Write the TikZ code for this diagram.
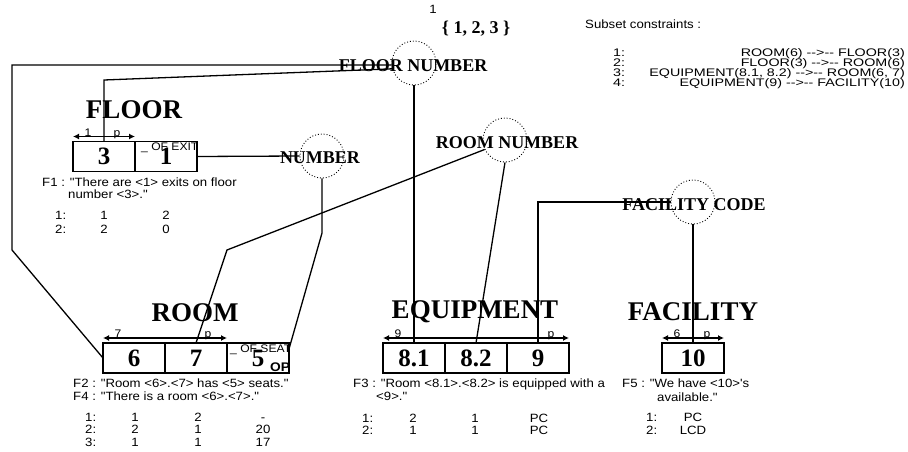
\documentclass[tikz,border=0pt]{standalone}
\usepackage{fontspec}
\setmainfont{Liberation Serif}
\newfontfamily\arial[Ligatures=TeXOff,FakeStretch=1.1]{Liberation Sans}
\newfontfamily\arialwide[Ligatures=TeXOff,FakeStretch=1.3]{Liberation Sans}
\usepackage{tikz}
\usetikzlibrary{arrows.meta,positioning}
\tikzset{
  cellbox/.style={draw,line width=1.3pt,outer sep=0pt,inner sep=0pt,minimum width=62pt,minimum height=30pt,font=\bfseries\fontsize{25}{25}\selectfont},
  rolering/.style={circle,draw,dotted,line width=0.9pt,minimum size=44pt,inner sep=0pt},
  rolename/.style={inner sep=0pt,font=\bfseries\fontsize{18}{18}\selectfont},
  entname/.style={inner sep=0pt,font=\bfseries\fontsize{27}{27}\selectfont},
  txt/.style={inner sep=0pt,font=\arial\fontsize{12}{12}\selectfont},
  listtxt/.style={inner sep=0pt,font=\arialwide\fontsize{11}{11}\selectfont},
  smalltxt/.style={inner sep=0pt,font=\arial\fontsize{11}{11}\selectfont},
  link/.style={line width=1.3pt},
  span/.style={{Latex[length=6pt,width=6pt]}-{Latex[length=6pt,width=6pt]},line width=1.3pt}
}

\begin{document}
\begin{tikzpicture}[x=1pt,y=1pt]
  \useasboundingbox (0,0) rectangle (908,-452);
  \node[entname] (floor) at (134,-110) {FLOOR};
  \node[entname] (room) at (195,-313) {ROOM};
  \node[entname] (equip) at (475,-312) {EQUIPMENT};
  \node[entname] (facil) at (693,-312) {FACILITY};
  \node[cellbox] (c3) at (104,-156.5) {3};
  \node[cellbox,right=0pt of c3] (c1) {1};
  \node[cellbox] (c6) at (134,-358) {6};
  \node[cellbox,right=0pt of c6] (c7) {7};
  \node[cellbox,right=0pt of c7] (c5) {5};
  \node[cellbox] (c81) at (414,-358) {8.1};
  \node[cellbox,right=0pt of c81] (c82) {8.2};
  \node[cellbox,right=0pt of c82] (c9) {9};
  \node[cellbox] (c10) at (693,-358) {10};
  \begin{scope}
    \clip ([yshift=10pt]c1.north west) rectangle (c1.south east);
    \node[smalltxt,anchor=base west] (exits) at (141,-150.5) {\_ OF EXITS};
  \end{scope}
  \begin{scope}
    \clip (c5.north west) rectangle (c5.south east);
    \node[smalltxt,anchor=base west] (seats) at (230,-352.5) {\_ OF SEATS};
  \end{scope}
  \node[smalltxt,font=\arial\bfseries\fontsize{12.5}{12.5}\selectfont] (op) at (280,-367) {OP};
  \draw[span] ([yshift=5pt]c3.north west) -- ([yshift=5pt]c3.north east);
  \draw[span] ([yshift=5pt]c6.north west) -- ([yshift=5pt]c7.north east);
  \draw[span] ([yshift=5pt]c81.north west) -- ([yshift=5pt]c9.north east);
  \draw[span] ([yshift=5pt]c10.north west) -- ([yshift=5pt]c10.north east);
  \node[smalltxt,anchor=base] (sp1) at (88,-136.5) {1};
  \node[smalltxt,anchor=base] (sp2) at (117,-136.5) {p};
  \node[smalltxt,anchor=base] (sp3) at (118,-337.5) {7};
  \node[smalltxt,anchor=base] (sp4) at (208,-337.5) {p};
  \node[smalltxt,anchor=base] (sp5) at (398,-337.5) {9};
  \node[smalltxt,anchor=base] (sp6) at (551,-337.5) {p};
  \node[smalltxt,anchor=base] (sp7) at (677,-337.5) {6};
  \node[smalltxt,anchor=base] (sp8) at (707,-337.5) {p};
  \node[rolering] (fnum) at (414,-63) {};
  \node[rolering] (num) at (322,-156) {};
  \node[rolering] (rnum) at (505,-140) {};
  \node[rolering] (fcode) at (693,-202) {};
  \node[rolename] (fnumtxt) at (413,-66) {FLOOR NUMBER};
  \node[rolename] (numtxt) at (320,-158) {NUMBER};
  \node[rolename] (rnumtxt) at (507,-143) {ROOM NUMBER};
  \node[rolename] (fcodetxt) at (694,-205) {FACILITY CODE};
  \node[txt,anchor=base] (popnum) at (433,-14) {1};
  \node[rolename] (popset) at (476,-29) {\{ 1, 2, 3 \}};
  \coordinate (bendA) at (12,-65);
  \coordinate (bendB) at (12,-250);
  \coordinate (bendC) at (104,-80);
  \coordinate (bendD) at (322,-233);
  \coordinate (bendE) at (227,-250);
  \draw[link] (fnum.185) -- (bendA) -- (bendB) -- (c6.west);
  \draw[link] (fnum.195) -- (bendC) -- (c3.north);
  \draw[link] (fnum.south) -- (c81.north);
  \draw[link] (c1.east) -- (num.west);
  \draw[link] (num.south) -- (bendD) -- ([yshift=-6pt]c5.north east);
  \draw[link] (rnum.205) -- (bendE) -- (c7.north);
  \draw[link] (rnum.south) -- (c82.north);
  \draw[link] (fcode.west) -| (c9.north);
  \draw[link] (fcode.south) -- (c10.north);
  \node[txt,anchor=base west] (f1a) at (42,-186) {F1 : "There are <1> exits on floor};
  \node[txt,anchor=base west] (f1b) at (68,-198) {number <3>."};
  \foreach \k/\a/\b [count=\i] in {1/1/2,2/2/0}{
    \node[txt,anchor=base west] (fAk\i) at (55,{-219-14*(\i-1)}) {\k:};
    \node[txt,anchor=base] (fAa\i) at (104,{-219-14*(\i-1)}) {\a};
    \node[txt,anchor=base] (fAb\i) at (166,{-219-14*(\i-1)}) {\b};
  }
  \node[txt,anchor=base west] (f2a) at (73,-387) {F2 : "Room <6>.<7> has <5> seats."};
  \node[txt,anchor=base west] (f2b) at (73,-400) {F4 : "There is a room <6>.<7>."};
  \foreach \k/\a/\b/\c [count=\i] in {1/1/2/-,2/2/1/20,3/1/1/17}{
    \node[txt,anchor=base west] (fBk\i) at (85,{-421-12.5*(\i-1)}) {\k:};
    \node[txt,anchor=base] (fBa\i) at (135,{-421-12.5*(\i-1)}) {\a};
    \node[txt,anchor=base] (fBb\i) at (198,{-421-12.5*(\i-1)}) {\b};
    \node[txt,anchor=base] (fBc\i) at (263,{-421-12.5*(\i-1)}) {\c};
  }
  \node[txt,anchor=base west] (f3a) at (353,-387) {F3 : "Room <8.1>.<8.2> is equipped with a};
  \node[txt,anchor=base west] (f3b) at (376,-400) {<9>."};
  \foreach \k/\a/\b/\c [count=\i] in {1/2/1/PC,2/1/1/PC}{
    \node[txt,anchor=base west] (fCk\i) at (362,{-422-12.5*(\i-1)}) {\k:};
    \node[txt,anchor=base] (fCa\i) at (413,{-422-12.5*(\i-1)}) {\a};
    \node[txt,anchor=base] (fCb\i) at (475,{-422-12.5*(\i-1)}) {\b};
    \node[txt,anchor=base] (fCc\i) at (539,{-422-12.5*(\i-1)}) {\c};
  }
  \node[txt,anchor=base west] (f5a) at (622,-387) {F5 : "We have <10>'s};
  \node[txt,anchor=base west] (f5b) at (657,-401) {available."};
  \foreach \k/\a [count=\i] in {1/PC,2/LCD}{
    \node[txt,anchor=base west] (fDk\i) at (646,{-421-13*(\i-1)}) {\k:};
    \node[txt,anchor=base] (fDa\i) at (693,{-421-13*(\i-1)}) {\a};
  }
  \node[txt,anchor=base west] (subhead) at (585,-29) {Subset constraints :};
  \foreach \k/\r [count=\i] in {1/ROOM(6) -->-- FLOOR(3),2/FLOOR(3) -->-- ROOM(6),3/{EQUIPMENT(8.1, 8.2) -->-- ROOM(6, 7)},4/EQUIPMENT(9) -->-- FACILITY(10)}{
    \node[listtxt,anchor=base west] (subk\i) at (613,{-57-9.8*(\i-1)}) {\k:};
    \node[listtxt,anchor=base east] (subr\i) at (905,{-57-9.8*(\i-1)}) {\r};
  }
\end{tikzpicture}
\end{document}
